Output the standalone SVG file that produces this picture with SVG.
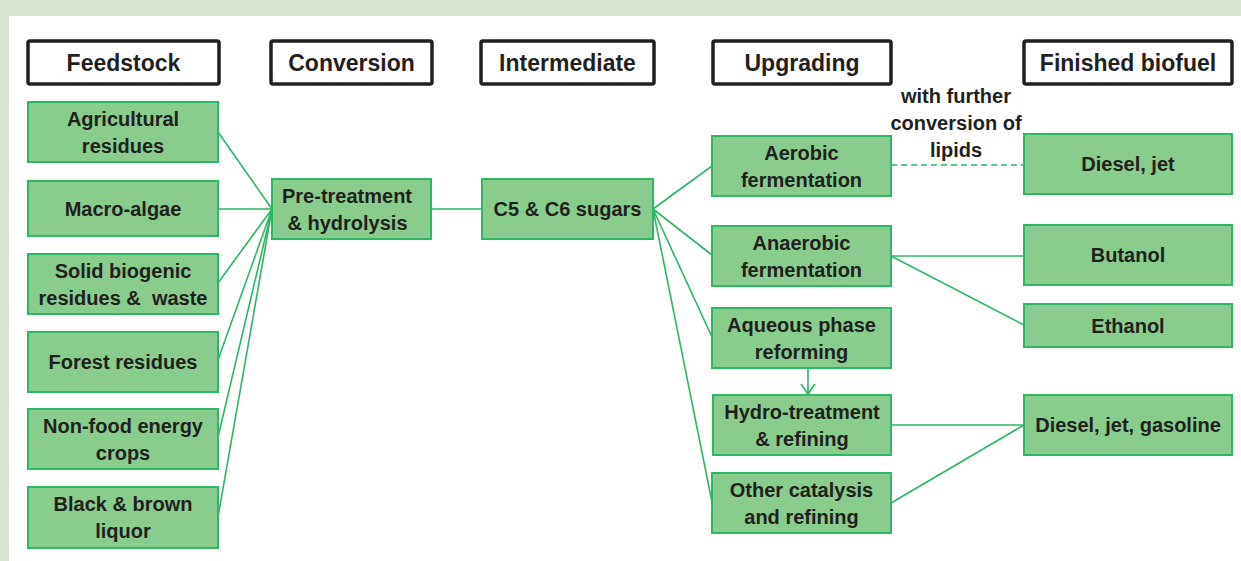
<svg xmlns="http://www.w3.org/2000/svg" width="1241" height="561" viewBox="0 0 1241 561">
<defs>
<style>
.hdr{fill:#ffffff;stroke:#231f20;stroke-width:3.5}
.nd{fill:#88cc8e;stroke:#2eb866;stroke-width:2}
.t{font-family:"Liberation Sans",Arial,sans-serif;font-weight:bold;font-size:20px;fill:#231f20;text-anchor:middle}
.ht{font-family:"Liberation Sans",Arial,sans-serif;font-weight:bold;font-size:23px;fill:#231f20;text-anchor:middle}
.c{stroke:#2db564;stroke-width:1.6;fill:none}
</style>
<marker id="arr" viewBox="0 0 12 16" refX="11" refY="8" markerWidth="12" markerHeight="16" markerUnits="userSpaceOnUse" orient="auto">
<path d="M1,1 L11,8 L1,15" fill="none" stroke="#2db564" stroke-width="1.6"/>
</marker>
</defs>
<rect x="0" y="0" width="1241" height="561" fill="#d6e4d0"/>
<rect x="9" y="16" width="1232" height="545" fill="#ffffff"/>

<g id="headers">
<g id="h-feedstock"><rect class="hdr" x="28" y="41" width="191" height="43" rx="2"/><text class="ht" x="123.5" y="71">Feedstock</text></g>
<g id="h-conversion"><rect class="hdr" x="271" y="41" width="161" height="43" rx="2"/><text class="ht" x="351.5" y="71">Conversion</text></g>
<g id="h-intermediate"><rect class="hdr" x="481" y="41" width="173" height="43" rx="2"/><text class="ht" x="567.5" y="71">Intermediate</text></g>
<g id="h-upgrading"><rect class="hdr" x="713" y="41" width="178" height="43" rx="2"/><text class="ht" x="802" y="71">Upgrading</text></g>
<g id="h-finished"><rect class="hdr" x="1024" y="41" width="208" height="43" rx="2"/><text class="ht" x="1128" y="71">Finished biofuel</text></g>
</g>

<g id="connectors">
<line class="c" x1="218" y1="132" x2="272" y2="209"/>
<line class="c" x1="218" y1="209" x2="272" y2="209"/>
<line class="c" x1="218" y1="283" x2="272" y2="209"/>
<line class="c" x1="218" y1="360" x2="272" y2="209"/>
<line class="c" x1="218" y1="437" x2="272" y2="209"/>
<line class="c" x1="218" y1="517" x2="272" y2="209"/>
<line class="c" x1="431" y1="209" x2="482" y2="209"/>
<line class="c" x1="653" y1="209" x2="712" y2="166"/>
<line class="c" x1="653" y1="209" x2="712" y2="255"/>
<line class="c" x1="653" y1="209" x2="712" y2="337"/>
<line class="c" x1="653" y1="209" x2="712" y2="502"/>
<line class="c" x1="891" y1="165" x2="1024" y2="165" stroke-dasharray="6,4"/>
<line class="c" x1="891" y1="256" x2="1024" y2="256"/>
<line class="c" x1="891" y1="256" x2="1024" y2="325"/>
<line class="c" x1="891" y1="425" x2="1024" y2="425"/>
<line class="c" x1="891" y1="503" x2="1024" y2="425"/>
<line class="c" x1="808" y1="368" x2="808" y2="394" marker-end="url(#arr)"/>
</g>

<g id="lbl-lipids">
<text class="t" x="956" y="103">with further</text>
<text class="t" x="956" y="130">conversion of</text>
<text class="t" x="956" y="157">lipids</text>
</g>

<g id="n-agri"><rect class="nd" x="28" y="102" width="190" height="60"/><text class="t" x="123" y="125.5">Agricultural</text><text class="t" x="123" y="152.5">residues</text></g>
<g id="n-macro"><rect class="nd" x="28" y="181" width="190" height="55"/><text class="t" x="123" y="215.5">Macro-algae</text></g>
<g id="n-solid"><rect class="nd" x="28" y="254" width="190" height="60"/><text class="t" x="123" y="277.5">Solid biogenic</text><text class="t" x="123" y="304.5" style="white-space:pre">residues &amp;  waste</text></g>
<g id="n-forest"><rect class="nd" x="28" y="332" width="190" height="60"/><text class="t" x="123" y="369">Forest residues</text></g>
<g id="n-nonfood"><rect class="nd" x="28" y="409" width="190" height="60"/><text class="t" x="123" y="432.5">Non-food energy</text><text class="t" x="123" y="459.5">crops</text></g>
<g id="n-black"><rect class="nd" x="28" y="487" width="190" height="61"/><text class="t" x="123" y="511">Black &amp; brown</text><text class="t" x="123" y="538">liquor</text></g>

<g id="n-pretreat"><rect class="nd" x="272" y="179" width="159" height="60"/><text class="t" x="347" y="202.5">Pre-treatment</text><text class="t" x="347.5" y="229.5">&amp; hydrolysis</text></g>
<g id="n-sugars"><rect class="nd" x="482" y="179" width="171" height="60"/><text class="t" x="567.5" y="216">C5 &amp; C6 sugars</text></g>

<g id="n-aerobic"><rect class="nd" x="712" y="136" width="179" height="60"/><text class="t" x="801.5" y="159.5">Aerobic</text><text class="t" x="801.5" y="186.5">fermentation</text></g>
<g id="n-anaerobic"><rect class="nd" x="712" y="226" width="179" height="60"/><text class="t" x="801.5" y="249.5">Anaerobic</text><text class="t" x="801.5" y="276.5">fermentation</text></g>
<g id="n-aqueous"><rect class="nd" x="712" y="308" width="179" height="60"/><text class="t" x="801.5" y="331.5">Aqueous phase</text><text class="t" x="801.5" y="358.5">reforming</text></g>
<g id="n-hydro"><rect class="nd" x="713" y="395" width="178" height="60"/><text class="t" x="802" y="418.5">Hydro-treatment</text><text class="t" x="802" y="445.5">&amp; refining</text></g>
<g id="n-other"><rect class="nd" x="712" y="473" width="179" height="60"/><text class="t" x="801.5" y="496.5">Other catalysis</text><text class="t" x="801.5" y="523.5">and refining</text></g>

<g id="n-dieseljet"><rect class="nd" x="1024" y="134" width="208" height="60"/><text class="t" x="1128" y="171">Diesel, jet</text></g>
<g id="n-butanol"><rect class="nd" x="1024" y="225" width="208" height="60"/><text class="t" x="1128" y="262">Butanol</text></g>
<g id="n-ethanol"><rect class="nd" x="1024" y="304" width="208" height="43"/><text class="t" x="1128" y="332.5">Ethanol</text></g>
<g id="n-djg"><rect class="nd" x="1024" y="395" width="208" height="60"/><text class="t" x="1128" y="432">Diesel, jet, gasoline</text></g>
</svg>
